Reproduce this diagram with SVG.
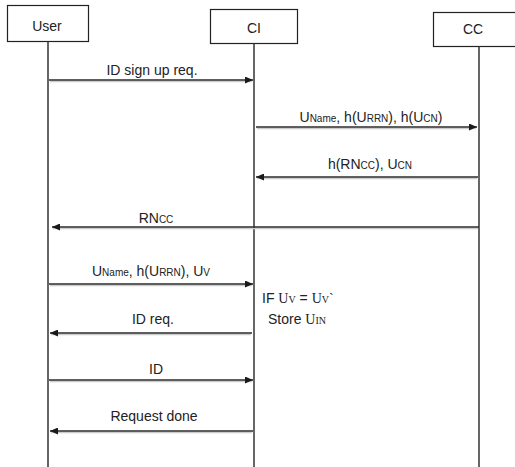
<svg xmlns="http://www.w3.org/2000/svg" width="515" height="467" viewBox="0 0 515 467">
<defs>
<marker id="ah" markerWidth="8" markerHeight="7" refX="8" refY="3.5" orient="auto" markerUnits="userSpaceOnUse">
<path d="M0,0 L8,3.5 L0,7 z" fill="#1a1a1a"/>
</marker>
<style>
.box{fill:#fff;stroke:#222;stroke-width:1.2}
.life{stroke:#333;stroke-width:1.5}
.msg{stroke:#2a2a2a;stroke-width:1.6;fill:none;marker-end:url(#ah)}
.shadow{stroke:#ccc;stroke-width:1.5;fill:none}
text{font-family:"Liberation Sans",Arial,sans-serif;font-size:14px;fill:#222}
.lbl{text-anchor:middle}
.sub{font-size:10px}
.ser{font-family:"Liberation Serif","Times New Roman",serif}
</style>
</defs>
<rect width="515" height="467" fill="#fff"/>
<g id="user">
<rect class="box" x="7.5" y="5.5" width="81" height="36"/>
<text class="lbl" x="47" y="31">User</text>
<line class="life" x1="48" y1="41.5" x2="48" y2="467"/>
</g>
<g id="ci">
<rect class="box" x="210.5" y="9.5" width="87" height="34"/>
<text class="lbl" x="254" y="33">CI</text>
<line class="life" x1="254" y1="43.5" x2="254" y2="467"/>
</g>
<g id="cc">
<rect class="box" x="433.5" y="12.5" width="90" height="34"/>
<text class="lbl" x="473" y="34">CC</text>
<line class="life" x1="479" y1="46.5" x2="479" y2="467"/>
</g>
<g id="connectors">
<line class="shadow" x1="50" y1="81.5" x2="252" y2="81.5"/>
<line class="msg" x1="49" y1="80" x2="253" y2="80"/>
<line class="shadow" x1="257" y1="128.5" x2="476" y2="128.5"/>
<line class="msg" x1="256" y1="127" x2="477" y2="127"/>
<line class="shadow" x1="477" y1="178.5" x2="257" y2="178.5"/>
<line class="msg" x1="478" y1="177" x2="256" y2="177"/>
<line class="shadow" x1="478" y1="228.5" x2="53" y2="228.5"/>
<line class="msg" x1="479" y1="227" x2="52" y2="227"/>
<line class="shadow" x1="50" y1="285.5" x2="252" y2="285.5"/>
<line class="msg" x1="49" y1="284" x2="253" y2="284"/>
<line class="shadow" x1="251" y1="334.5" x2="51" y2="334.5"/>
<line class="msg" x1="252" y1="333" x2="50" y2="333"/>
<line class="shadow" x1="50" y1="381.5" x2="252" y2="381.5"/>
<line class="msg" x1="49" y1="380" x2="253" y2="380"/>
<line class="shadow" x1="252" y1="432.5" x2="51" y2="432.5"/>
<line class="msg" x1="253" y1="431" x2="50" y2="431"/>
</g>
<g id="labels">
<text class="lbl" x="152" y="75">ID sign up req.</text>
<text class="lbl" x="371" y="122">U<tspan class="sub">Name</tspan>, h(U<tspan class="sub">RRN</tspan>), h(U<tspan class="sub">CN</tspan>)</text>
<text class="lbl" x="370" y="169">h(RN<tspan class="sub">CC</tspan>), U<tspan class="sub">CN</tspan></text>
<text class="lbl" x="156" y="223">RN<tspan class="sub">CC</tspan></text>
<text class="lbl" x="151" y="276">U<tspan class="sub">Name</tspan>, h(U<tspan class="sub">RRN</tspan>), U<tspan class="sub">V</tspan></text>
<text class="lbl" x="153" y="324">ID req.</text>
<text class="lbl" x="156" y="374">ID</text>
<text class="lbl" x="154" y="421">Request done</text>
</g>
<g id="note">
<text x="262" y="303">IF <tspan class="ser">U</tspan><tspan class="ser sub">V</tspan> = <tspan class="ser">U</tspan><tspan class="ser sub">V</tspan><tspan class="ser">`</tspan></text>
<text x="268" y="324">Store <tspan class="ser">U</tspan><tspan class="ser sub">IN</tspan></text>
</g>
</svg>
